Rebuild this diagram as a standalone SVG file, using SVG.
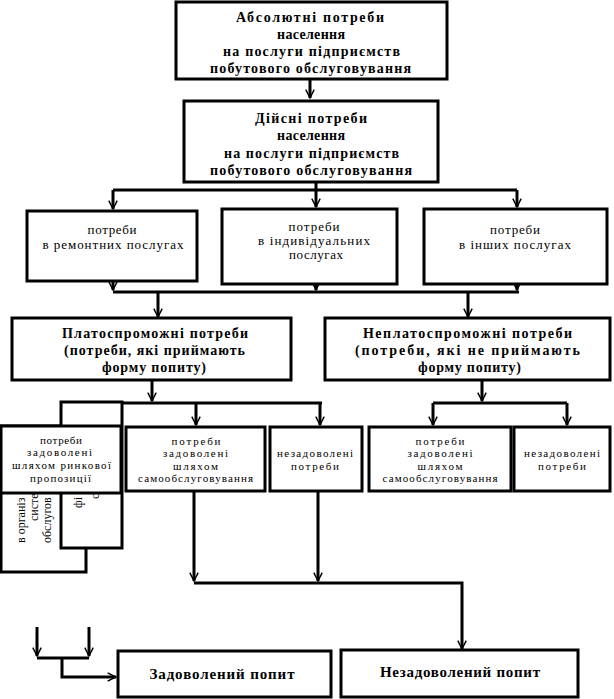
<svg xmlns="http://www.w3.org/2000/svg" width="614" height="699" viewBox="0 0 614 699">
<style>
.box{fill:#fff;stroke:#000;stroke-width:3}
.ln{fill:none;stroke:#000;stroke-width:3}
text{font-family:"Liberation Serif","Times New Roman",serif;fill:#000;text-anchor:middle}
.b{font-weight:bold;font-size:14px}
.r{font-size:13px}
.s{font-size:11px}
.l{font-size:15px;font-weight:bold}
.v{font-size:12px;text-anchor:start}
</style>
<defs>
<marker id="ar" markerUnits="userSpaceOnUse" markerWidth="12" markerHeight="12" viewBox="-8 -5 10 10" refX="0" refY="0" orient="auto" overflow="visible">
<path d="M-7,-3.5 L0,0 L-7,3.5" fill="none" stroke="#000" stroke-width="1.2"/>
</marker>
</defs>
<rect width="614" height="699" fill="#fff"/>

<g id="connectors">
<path class="ln" d="M310,79 V98" marker-end="url(#ar)"/>
<path class="ln" d="M316,182 V190 M113,190 H517"/>
<path class="ln" d="M113,190 V209" marker-end="url(#ar)"/>
<path class="ln" d="M316,190 V207" marker-end="url(#ar)"/>
<path class="ln" d="M517,190 V207" marker-end="url(#ar)"/>
<path class="ln" d="M113,281 V290" marker-end="url(#ar)"/>
<path class="ln" d="M316,284 V290" marker-end="url(#ar)"/>
<path class="ln" d="M517,284 V290" marker-end="url(#ar)"/>
<path class="ln" d="M113,292 H519"/>
<path class="ln" d="M158,292 V317" marker-end="url(#ar)"/>
<path class="ln" d="M468,292 V317" marker-end="url(#ar)"/>
<path class="ln" d="M152,380 V401" marker-end="url(#ar)"/>
<path class="ln" d="M120,403 H322"/>
<path class="ln" d="M196,403 V425" marker-end="url(#ar)"/>
<path class="ln" d="M320,403 V425" marker-end="url(#ar)"/>
<path class="ln" d="M482,380 V401" marker-end="url(#ar)"/>
<path class="ln" d="M433,403 H567"/>
<path class="ln" d="M433,403 V425" marker-end="url(#ar)"/>
<path class="ln" d="M567,403 V425" marker-end="url(#ar)"/>
<path class="ln" d="M194,492 V581" marker-end="url(#ar)"/>
<path class="ln" d="M318,492 V581" marker-end="url(#ar)"/>
<path class="ln" d="M194,583 H462 V649" marker-end="url(#ar)"/>
<path class="ln" d="M37,627 V656" marker-end="url(#ar)"/>
<path class="ln" d="M89,627 V656" marker-end="url(#ar)"/>
<path class="ln" d="M37,658 H89 M62,658 V677 H116" marker-end="url(#ar)"/>
</g>

<g id="n-absolute">
<rect class="box" x="176" y="2" width="271" height="77"/>
<text class="b" x="310" y="22" textLength="148" lengthAdjust="spacing">Абсолютні потреби</text>
<text class="b" x="311" y="39" textLength="68" lengthAdjust="spacing">населення</text>
<text class="b" x="311.5" y="56" textLength="177" lengthAdjust="spacing">на послуги підприємств</text>
<text class="b" x="310.5" y="73" textLength="201" lengthAdjust="spacing">побутового обслуговування</text>
</g>

<g id="n-real">
<rect class="box" x="184" y="101" width="254" height="81"/>
<text class="b" x="311" y="123" textLength="112" lengthAdjust="spacing">Дійсні потреби</text>
<text class="b" x="311" y="140" textLength="68" lengthAdjust="spacing">населення</text>
<text class="b" x="311.5" y="158" textLength="175" lengthAdjust="spacing">на послуги підприємств</text>
<text class="b" x="311" y="175" textLength="202" lengthAdjust="spacing">побутового обслуговування</text>
</g>

<g id="n-repair">
<rect class="box" x="27" y="211" width="170" height="70"/>
<text class="r" x="112" y="234" textLength="49" lengthAdjust="spacing">потреби</text>
<text class="r" x="113" y="249" textLength="141" lengthAdjust="spacing">в ремонтних послугах</text>
</g>

<g id="n-individual">
<rect class="box" x="222" y="209" width="175" height="75"/>
<text class="r" x="314" y="231" textLength="51" lengthAdjust="spacing">потреби</text>
<text class="r" x="314" y="245" textLength="112" lengthAdjust="spacing">в індивідуальних</text>
<text class="r" x="316" y="259" textLength="54" lengthAdjust="spacing">послугах</text>
</g>

<g id="n-other">
<rect class="box" x="424" y="209" width="183" height="75"/>
<text class="r" x="515" y="234" textLength="50" lengthAdjust="spacing">потреби</text>
<text class="r" x="515" y="249" textLength="112" lengthAdjust="spacing">в інших послугах</text>
</g>

<g id="n-solvent">
<rect class="box" x="12" y="318" width="279" height="62"/>
<text class="b" x="155" y="338" textLength="186" lengthAdjust="spacing">Платоспроможні потреби</text>
<text class="b" x="154.5" y="355" textLength="181" lengthAdjust="spacing">(потреби, які приймають</text>
<text class="b" x="154" y="372" textLength="104" lengthAdjust="spacing">форму попиту)</text>
</g>

<g id="n-insolvent">
<rect class="box" x="325" y="318" width="285" height="62"/>
<text class="b" x="467.5" y="338" textLength="209" lengthAdjust="spacing">Неплатоспроможні потреби</text>
<text class="b" x="467.5" y="355" textLength="225" lengthAdjust="spacing">(потреби, які не приймають</text>
<text class="b" x="469.5" y="372" textLength="103" lengthAdjust="spacing">форму попиту)</text>
</g>

<g id="n-organised">
<rect class="box" x="1" y="426" width="85" height="146"/>
<text class="v" transform="translate(25,543) rotate(-90)">в організ</text>
<text class="v" transform="translate(38,521) rotate(-90)">систе</text>
<text class="v" transform="translate(51,543) rotate(-90)">обслугов</text>
</g>

<g id="n-financial">
<rect class="box" x="61" y="402" width="61" height="146"/>
<text class="v" transform="translate(82,508) rotate(-90)">фі</text>
<text class="v" transform="translate(99,499) rotate(-90)">с</text>
</g>

<g id="n-market">
<rect class="box" x="1" y="426" width="120" height="67"/>
<text class="s" x="61" y="444" textLength="42" lengthAdjust="spacing">потреби</text>
<text class="s" x="59.5" y="456" textLength="65" lengthAdjust="spacing">задоволені</text>
<text class="s" x="61.5" y="469" textLength="99" lengthAdjust="spacing">шляхом ринкової</text>
<text class="s" x="60.5" y="482" textLength="61" lengthAdjust="spacing">пропозиції</text>
</g>

<g id="n-self-1">
<rect class="box" x="126" y="427" width="139" height="64"/>
<text class="s" x="196" y="445" textLength="49" lengthAdjust="spacing">потреби</text>
<text class="s" x="195.5" y="457" textLength="65" lengthAdjust="spacing">задоволені</text>
<text class="s" x="195.5" y="470" textLength="45" lengthAdjust="spacing">шляхом</text>
<text class="s" x="195.5" y="482" textLength="115" lengthAdjust="spacing">самообслуговування</text>
</g>

<g id="n-unmet-1">
<rect class="box" x="270" y="427" width="92" height="64"/>
<text class="s" x="315" y="457" textLength="76" lengthAdjust="spacing">незадоволені</text>
<text class="s" x="315" y="470" textLength="48" lengthAdjust="spacing">потреби</text>
</g>

<g id="n-self-2">
<rect class="box" x="369" y="427" width="142" height="64"/>
<text class="s" x="440" y="445" textLength="49" lengthAdjust="spacing">потреби</text>
<text class="s" x="440" y="457" textLength="65" lengthAdjust="spacing">задоволені</text>
<text class="s" x="440" y="470" textLength="45" lengthAdjust="spacing">шляхом</text>
<text class="s" x="440" y="482" textLength="115" lengthAdjust="spacing">самообслуговування</text>
</g>

<g id="n-unmet-2">
<rect class="box" x="514" y="427" width="96" height="64"/>
<text class="s" x="562" y="457" textLength="76" lengthAdjust="spacing">незадоволені</text>
<text class="s" x="562" y="470" textLength="48" lengthAdjust="spacing">потреби</text>
</g>

<g id="n-satisfied-demand">
<rect class="box" x="118" y="651" width="213" height="46"/>
<text class="l" x="222" y="679" textLength="145" lengthAdjust="spacing">Задоволений попит</text>
</g>

<g id="n-unsatisfied-demand">
<rect class="box" x="341" y="650" width="237" height="47"/>
<text class="l" x="460" y="677" textLength="160" lengthAdjust="spacing">Незадоволений попит</text>
</g>
</svg>
